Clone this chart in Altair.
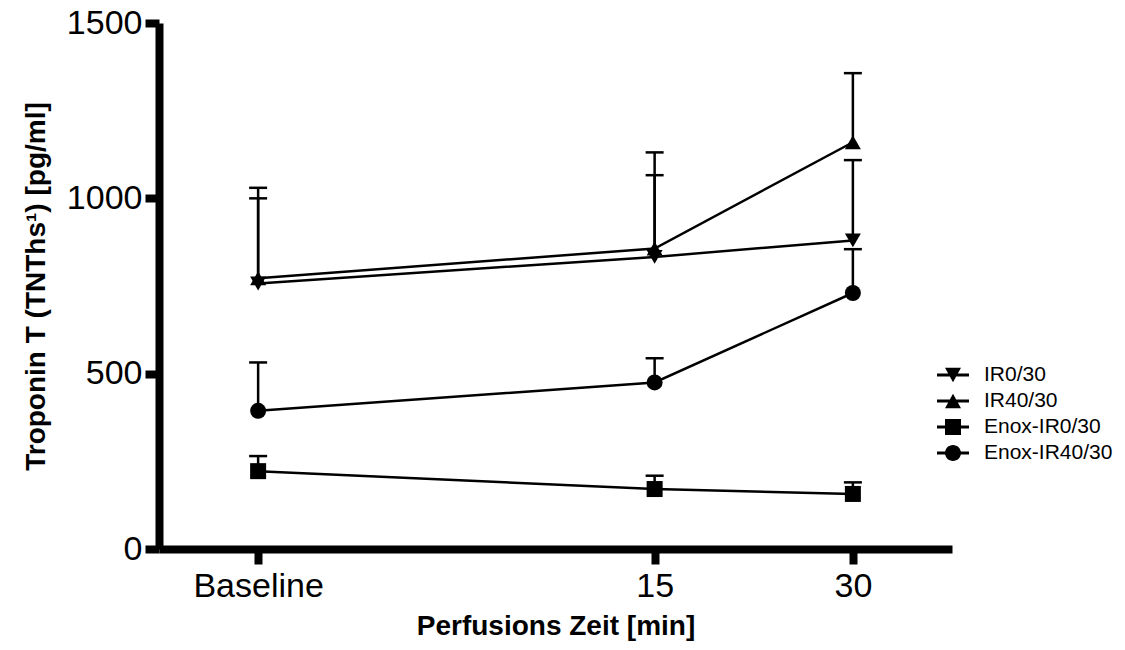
import altair as alt
import pandas as pd

# ---- data ----
groups = ["IR0/30", "IR40/30", "Enox-IR0/30", "Enox-IR40/30"]
times = [-15, 15, 30]  # -15 is shown as "Baseline"
time_ticks = [-15, 15, 30]
y_ticks = [0, 500, 1000, 1500]

ir0_mean = [757, 833, 880]
ir0_upper = [1000, 1066, 1109]
ir40_mean = [772, 857, 1160]
ir40_upper = [1030, 1131, 1357]
enox_ir0_mean = [222, 171, 157]
enox_ir0_upper = [265, 209, 190]
enox_ir40_mean = [394, 475, 730]
enox_ir40_upper = [532, 544, 855]

means = [ir0_mean, ir40_mean, enox_ir0_mean, enox_ir40_mean]
uppers = [ir0_upper, ir40_upper, enox_ir0_upper, enox_ir40_upper]

rows = []
for g, m, u in zip(groups, means, uppers):
    for t, mv, uv in zip(times, m, u):
        rows.append({"group": g, "time": t, "mean": mv, "upper": uv})
df = pd.DataFrame(rows)

FONT = "Liberation Sans"
data_shapes = ["triangle-down", "triangle-up", "square", "circle"]
dash = "M-1,-0.09H1V0.09H-1Z"
legend_shapes = [
    dash + "M-0.5,-0.45L0.5,-0.45L0,0.45Z",
    dash + "M-0.5,0.45L0,-0.45L0.5,0.45Z",
    dash + "M-0.5,-0.5H0.5V0.5H-0.5Z",
    dash + "M-0.5,0A0.5,0.5 0 1,1 0.5,0A0.5,0.5 0 1,1 -0.5,0Z",
]

x_enc = alt.X(
    "time:Q",
    scale=alt.Scale(domain=[-22.5, 37.5], nice=False, zero=False),
    axis=alt.Axis(
        values=time_ticks,
        labelExpr="datum.value == -15 ? 'Baseline' : datum.label",
        title="Perfusions Zeit [min]",
        grid=False,
        domainColor="black",
        domainWidth=8,
        tickColor="black",
        tickWidth=8,
        tickSize=15,
        labelFont=FONT,
        labelFontSize=34,
        labelColor="black",
        labelPadding=5,
        titleFont=FONT,
        titleFontSize=28,
        titleFontWeight="bold",
        titleColor="black",
        titlePadding=9,
    ),
)
y_scale = alt.Scale(domain=[0, 1500], nice=False)
y_axis = alt.Axis(
    values=y_ticks,
    format="d",
    title="Troponin T (TNThs¹) [pg/ml]",
    grid=False,
    domainColor="black",
    domainWidth=8,
    tickColor="black",
    tickWidth=8,
    tickSize=14,
    labelFont=FONT,
    labelFontSize=34,
    labelColor="black",
    labelPadding=3,
    titleFont=FONT,
    titleFontSize=28,
    titleFontWeight="bold",
    titleColor="black",
    titlePadding=16,
)

base = alt.Chart(df)

lines = base.mark_line(color="black", strokeWidth=2.5).encode(
    x=x_enc,
    y=alt.Y("mean:Q", scale=y_scale, axis=y_axis),
    detail="group:N",
)

err = base.mark_rule(color="black", strokeWidth=2.5, opacity=1).encode(
    x="time:Q",
    y="mean:Q",
    y2="upper:Q",
)

caps = base.mark_tick(
    color="black", orient="horizontal", size=18, thickness=2.5, opacity=1
).encode(
    x="time:Q",
    y="upper:Q",
)

points = base.mark_point(filled=True, color="black", opacity=1).encode(
    x="time:Q",
    y="mean:Q",
    shape=alt.Shape(
        "group:N",
        scale=alt.Scale(domain=groups, range=data_shapes),
        legend=None,
    ),
    size=alt.Size(
        "group:N",
        scale=alt.Scale(domain=groups, range=[256, 256, 256, 180]),
        legend=None,
    ),
)

legend_layer = base.transform_filter("false").mark_point(
    filled=True, color="black", opacity=1
).encode(
    x="time:Q",
    y="mean:Q",
    shape=alt.Shape(
        "group:N",
        scale=alt.Scale(domain=groups, range=legend_shapes),
        legend=alt.Legend(
            title=None,
            orient="none",
            legendX=778,
            legendY=336,
            padding=0,
            rowPadding=0,
            symbolSize=1024,
            symbolFillColor="black",
            symbolStrokeWidth=0,
            symbolOpacity=1,
            labelFont=FONT,
            labelFontSize=21,
            labelColor="black",
            labelOffset=15,
        ),
    ),
)

chart = (
    alt.layer(lines, err, caps, points, legend_layer)
    .resolve_scale(shape="independent", size="independent")
    .properties(
        width=793,
        height=526,
        background="white",
        autosize=alt.AutoSizeParams(type="none"),
        padding={"left": 159, "top": 23, "right": 173, "bottom": 101},
    )
    .configure_view(stroke="transparent", strokeWidth=0)
)

chart.save("out.html", embed_options={"renderer": "svg", "actions": False})
